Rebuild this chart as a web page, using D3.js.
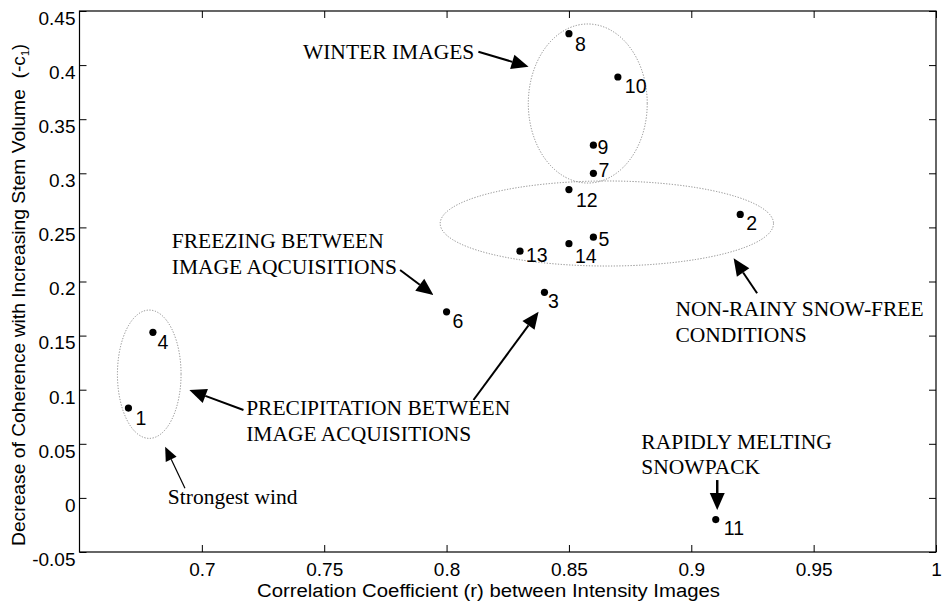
<!DOCTYPE html>
<html>
<head>
<meta charset="utf-8">
<script src="https://cdn.jsdelivr.net/npm/d3@7/dist/d3.min.js"></script>
<style>
  html, body { margin: 0; padding: 0; background: #fff; }
  svg { display: block; }
  .tick text { font-family: "Liberation Sans", Arial, sans-serif; font-size: 19px; fill: #000; }
  .ann { font-family: "Liberation Serif", "Times New Roman", serif; font-size: 21.5px; fill: #000; }
  .ptlabel { font-family: "Liberation Sans", Arial, sans-serif; font-size: 19.5px; fill: #000; }
  .axtitle { font-family: "Liberation Sans", Arial, sans-serif; font-size: 18px; fill: #000; }
</style>
</head>
<body>
<svg id="chart" width="942" height="604"></svg>
<script>
// Image pair numbers and their measurements
const pairIds = ["1", "2", "3", "4", "5", "6", "7", "8", "9", "10", "11", "12", "13", "14"];
const correlationR = [0.67, 0.92, 0.84, 0.68, 0.86, 0.80, 0.86, 0.85, 0.86, 0.87, 0.91, 0.85, 0.83, 0.85];
const coherenceDecrease = [0.083, 0.262, 0.190, 0.153, 0.241, 0.172, 0.300, 0.429, 0.326, 0.389, -0.020, 0.285, 0.228, 0.235];

// Axis ticks
const xTicks = [0.7, 0.75, 0.8, 0.85, 0.9, 0.95, 1];
const yTicks = [-0.05, 0, 0.05, 0.1, 0.15, 0.2, 0.25, 0.3, 0.35, 0.4, 0.45];

// Per-point label nudges (pixels from the dot)
const labelNudge = [[7, 17], [6, 16], [3.5, 16], [4.5, 17], [5, 9], [6, 16], [5, 4],
                    [6, 17], [4, 9], [7, 16], [8, 15], [7, 17], [6, 11], [6, 19]];

// Grouping ellipses: [centre r, centre -c1, radius r, radius -c1]
const groupEllipses = [
  [0.8577, 0.3645, 0.0243, 0.0735],
  [0.8655, 0.2536, 0.0681, 0.0393],
  [0.6785, 0.1143, 0.0130, 0.0593]
];

// Annotation texts anchored in data coordinates
const notes = [
  { x: 0.7413, y: 0.4054, lines: ["WINTER IMAGES"] },
  { x: 0.6877, y: 0.2307, lines: ["FREEZING BETWEEN", "IMAGE AQCUISITIONS"] },
  { x: 0.7181, y: 0.0766, lines: ["PRECIPITATION BETWEEN", "IMAGE ACQUISITIONS"] },
  { x: 0.8935, y: 0.1681, lines: ["NON-RAINY SNOW-FREE", "CONDITIONS"] },
  { x: 0.8796, y: 0.0452, lines: ["RAPIDLY MELTING", "SNOWPACK"] },
  { x: 0.6861, y: -0.0056, lines: ["Strongest wind"] }
];

// Arrows: [tail r, tail c, tip r, tip c, line width]
const arrows = [
  [0.8130, 0.4124, 0.8335, 0.3985, 2],
  [0.7810, 0.2106, 0.7946, 0.1875, 2],
  [0.7170, 0.0812, 0.6949, 0.0997, 2],
  [0.8110, 0.0905, 0.8376, 0.1721, 2],
  [0.9269, 0.1891, 0.9173, 0.2214, 2],
  [0.9106, 0.0165, 0.9106, -0.0112, 2.5],
  [0.6931, 0.0089, 0.6850, 0.0473, 1.2]
];

const svg = d3.select("#chart");
const plotL = 79.5, plotR = 936, plotT = 11, plotB = 552;

const x = d3.scaleLinear().domain([0.65, 1]).range([plotL, plotR]);
const y = d3.scaleLinear().domain([-0.05, 0.45]).range([plotB, plotT]);

const fmt = d => (d === 1 ? "1" : (d === 0 ? "0" : String(+d.toFixed(2))));

// Axes with inward ticks on all four sides
svg.append("g").attr("transform", `translate(0,${plotB})`)
  .call(d3.axisBottom(x).tickValues(xTicks).tickSize(-7).tickPadding(11).tickFormat(fmt))
  .call(g => g.select(".domain").remove());
svg.append("g").attr("transform", `translate(0,${plotT})`)
  .call(d3.axisTop(x).tickValues(xTicks).tickSize(-7).tickFormat(""))
  .call(g => g.select(".domain").remove());
svg.append("g").attr("transform", `translate(${plotL},0)`)
  .call(d3.axisLeft(y).tickValues(yTicks).tickSize(-7).tickPadding(5).tickFormat(fmt))
  .call(g => g.select(".domain").remove())
  .call(g => g.selectAll(".tick text").attr("dy", "0.7em").attr("y", 0).attr("x", -4));
svg.append("g").attr("transform", `translate(${plotR},0)`)
  .call(d3.axisRight(y).tickValues(yTicks).tickSize(-7).tickFormat(""))
  .call(g => g.select(".domain").remove());

svg.selectAll(".tick line").attr("stroke", "#000").attr("stroke-width", 1);

// Frame
svg.append("rect")
  .attr("x", plotL).attr("y", plotT)
  .attr("width", plotR - plotL).attr("height", plotB - plotT)
  .attr("fill", "none").attr("stroke", "#000").attr("stroke-width", 1.2);

// Axis titles
svg.append("text").attr("class", "axtitle")
  .attr("x", 257).attr("y", 597)
  .attr("textLength", 463).attr("lengthAdjust", "spacingAndGlyphs")
  .text("Correlation Coefficient (r) between Intensity Images");

const yt = svg.append("text").attr("class", "axtitle")
  .attr("transform", "translate(25,546) rotate(-90)");
yt.append("tspan").attr("textLength", 490).attr("lengthAdjust", "spacingAndGlyphs")
  .text("Decrease of Coherence with Increasing Stem Volume\u00a0\u00a0(-c");
yt.append("tspan").attr("font-size", "11px").attr("dy", 4).text("1");
yt.append("tspan").attr("dy", -4).text(")");

// Grouping ellipses (dotted)
svg.append("g").selectAll("ellipse").data(groupEllipses).join("ellipse")
  .attr("cx", d => x(d[0])).attr("cy", d => y(d[1]))
  .attr("rx", d => x(d[0] + d[2]) - x(d[0]))
  .attr("ry", d => y(d[1]) - y(d[1] + d[3]))
  .attr("fill", "none").attr("stroke", "#888").attr("stroke-width", 1)
  .attr("stroke-dasharray", "1.2,1.6");

// Points and their numbers
const pts = pairIds.map((id, i) => ({ id, r: correlationR[i], c: coherenceDecrease[i], n: labelNudge[i] }));
svg.append("g").selectAll("circle").data(pts).join("circle")
  .attr("cx", d => x(d.r)).attr("cy", d => y(d.c)).attr("r", 3.6).attr("fill", "#000");
svg.append("g").selectAll("text").data(pts).join("text")
  .attr("class", "ptlabel")
  .attr("x", d => x(d.r) + d.n[0]).attr("y", d => y(d.c) + d.n[1])
  .text(d => d.id);

// Annotation texts
const ng = svg.append("g");
notes.forEach(n => {
  const t = ng.append("text").attr("class", "ann").attr("x", x(n.x)).attr("y", y(n.y));
  n.lines.forEach((l, i) => t.append("tspan").attr("x", x(n.x)).attr("dy", i === 0 ? 0 : 25.5).text(l));
});

// Arrows with filled triangular heads
const ag = svg.append("g");
arrows.forEach(a => {
  const x0 = x(a[0]), y0 = y(a[1]), x1 = x(a[2]), y1 = y(a[3]);
  const ang = Math.atan2(y1 - y0, x1 - x0);
  const hl = a[4] < 1.5 ? 14 : 17, hw = a[4] < 1.5 ? 6 : 7.5;
  const bx = x1 - hl * Math.cos(ang), by = y1 - hl * Math.sin(ang);
  ag.append("line").attr("x1", x0).attr("y1", y0).attr("x2", bx).attr("y2", by)
    .attr("stroke", "#000").attr("stroke-width", a[4]);
  const px = -Math.sin(ang) * hw, py = Math.cos(ang) * hw;
  ag.append("path")
    .attr("d", `M${x1},${y1}L${bx + px},${by + py}L${bx - px},${by - py}Z`)
    .attr("fill", "#000");
});
</script>
</body>
</html>
